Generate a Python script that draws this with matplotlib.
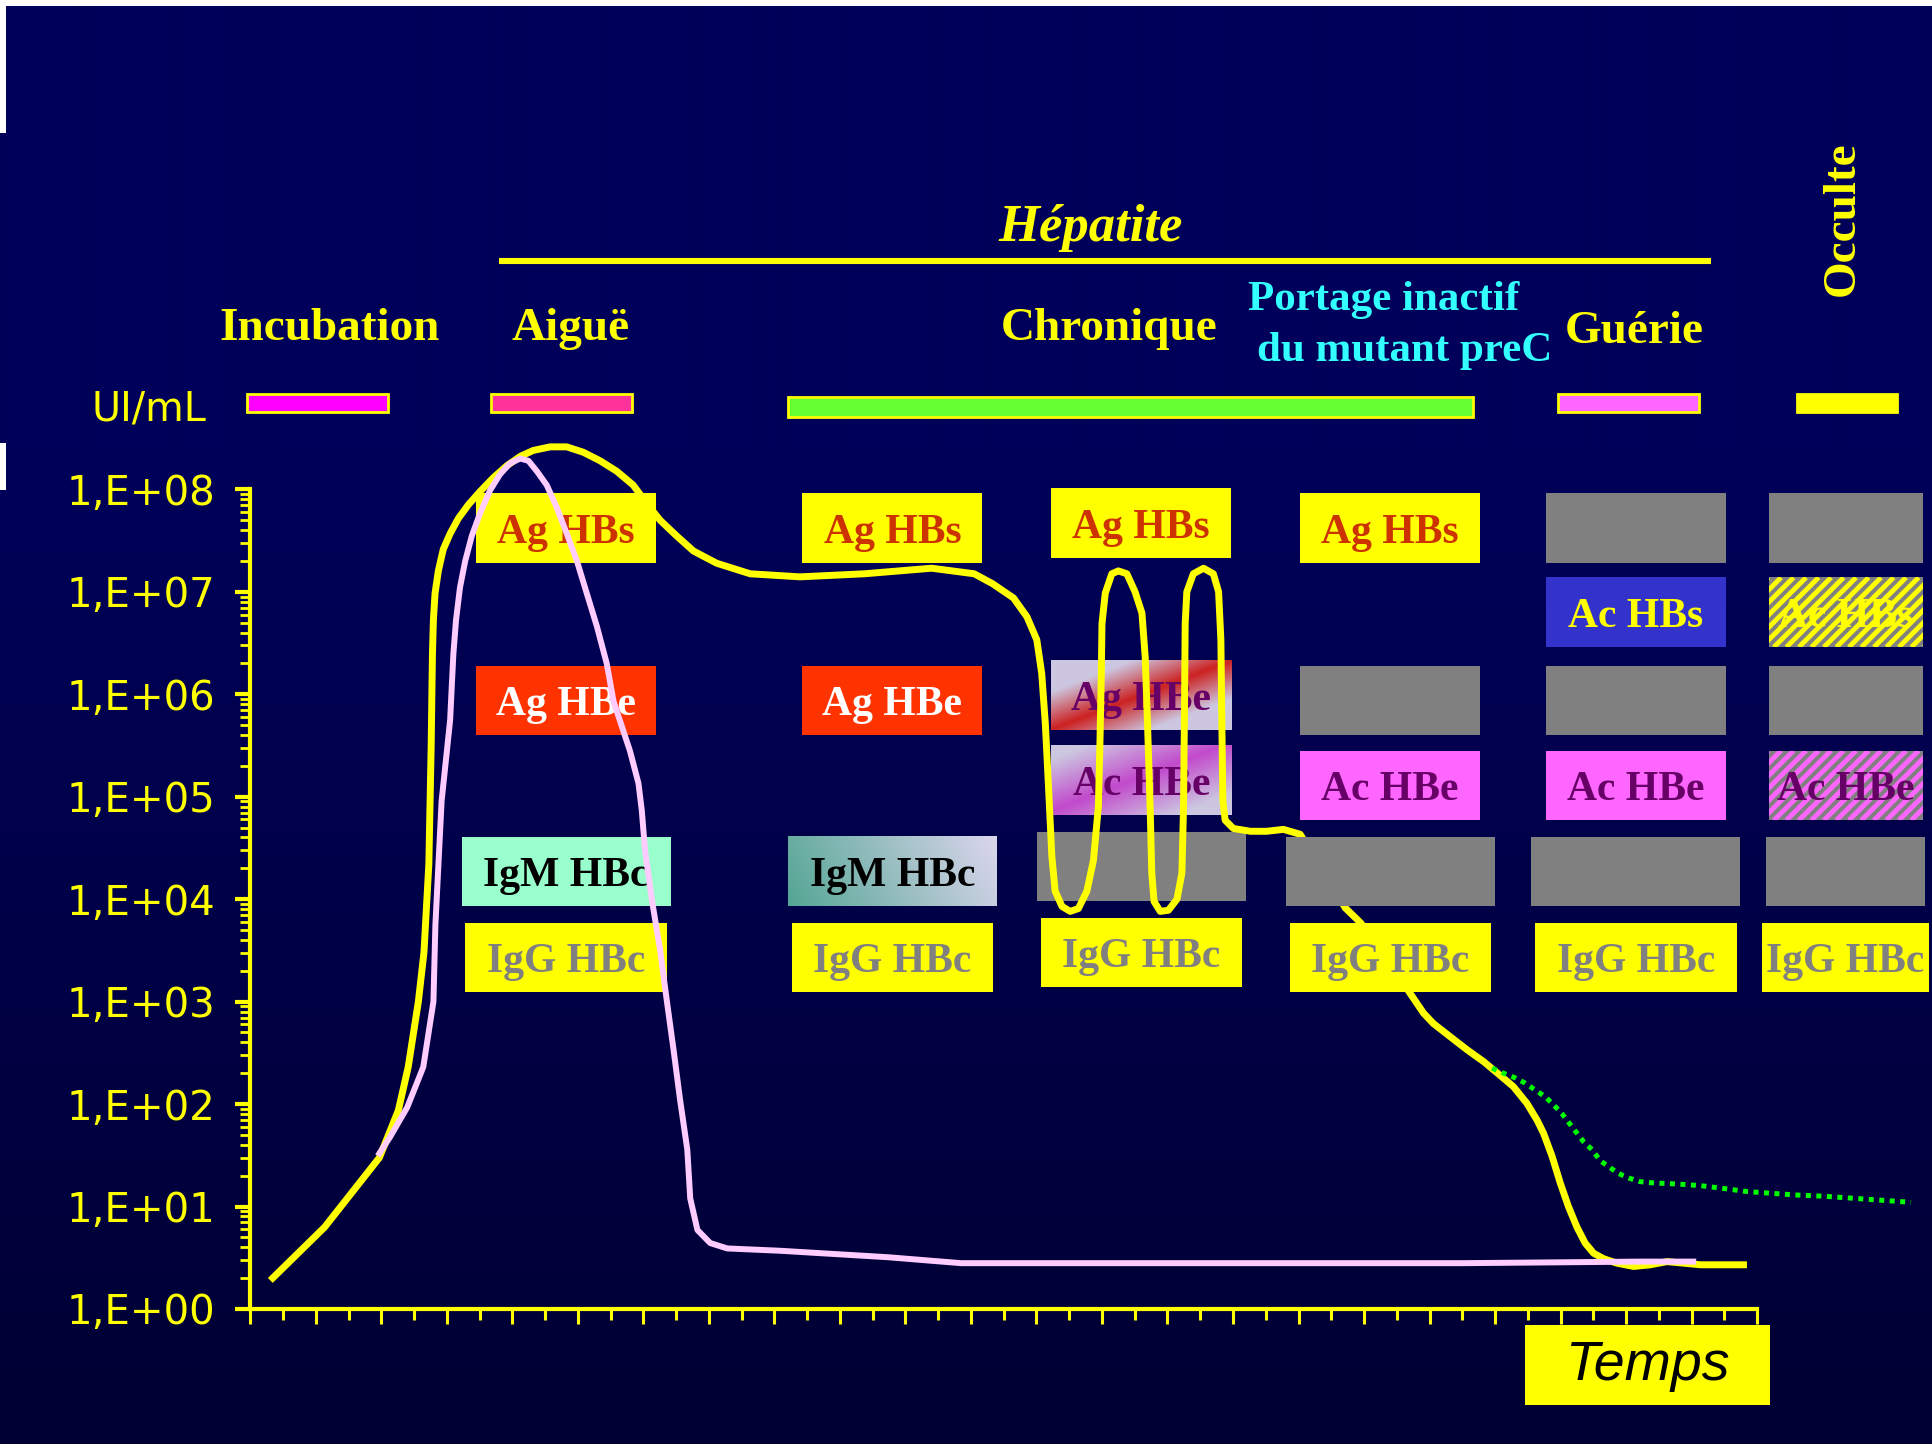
import numpy as np
import matplotlib
matplotlib.use("Agg")
import matplotlib.pyplot as plt
from matplotlib.patches import Rectangle
from matplotlib.collections import LineCollection
from matplotlib.transforms import Bbox, TransformedBbox, BboxTransformTo, IdentityTransform
from matplotlib.ticker import MultipleLocator, LogLocator, FuncFormatter, NullFormatter

# ---- curves: time (arbitrary units) / level (UI/mL) ----
# Ag HBs / viral load (yellow)
hbs_t = [0.61, 2.27, 3.94, 4.52, 4.82, 5.13, 5.30, 5.45, 5.52, 5.56, 5.59, 5.64, 5.74, 5.89,
         6.10, 6.35, 6.66, 7.01, 7.42, 7.83, 8.24, 8.64, 9.15, 9.66, 10.17, 10.68, 11.19, 11.69,
         12.10, 12.51, 13.02, 13.53, 14.24, 15.26, 16.78, 18.75, 20.80, 22.10, 22.66,
         23.30, 23.71, 24.01, 24.16, 24.27, 24.37, 24.47, 24.57, 24.78, 25.03, 25.28, 25.54,
         25.74, 25.89, 25.94, 25.98, 26.00, 26.10, 26.30, 26.50, 26.76, 27.01, 27.22, 27.32,
         27.39, 27.47, 27.52, 27.59, 27.78, 28.03, 28.29, 28.44, 28.49, 28.52, 28.54, 28.59,
         28.79, 29.10, 29.40, 29.56, 29.63, 29.66, 29.69, 29.76, 30.01, 30.53, 31.03, 31.54,
         32.05, 32.70, 33.43, 33.89, 34.60, 35.41, 35.82, 36.12, 36.63, 37.14, 37.65, 38.16,
         38.56, 38.97, 39.28, 39.48, 39.74, 39.99, 40.24, 40.50, 40.75, 41.01, 41.31, 41.72,
         42.23, 42.74, 43.25, 43.76, 44.27, 45.69]
hbs_v = [1.9, 6.3, 30, 87, 230, 1.0e3, 3.0e3, 2.2e4, 3.0e5, 2.5e6, 5.4e6, 9.7e6, 1.6e7, 2.6e7,
         3.7e7, 5.2e7, 7.1e7, 9.5e7, 1.3e8, 1.7e8, 2.1e8, 2.4e8, 2.6e8, 2.6e8, 2.3e8, 1.9e8, 1.5e8, 1.1e8,
         7.3e7, 5.0e7, 3.5e7, 2.5e7, 1.9e7, 1.5e7, 1.4e7, 1.5e7, 1.7e7, 1.5e7, 1.2e7,
         8.7e6, 5.7e6, 3.4e6, 1.6e6, 5.2e5, 1.2e5, 2.6e4, 1.2e4, 8.5e3, 7.6e3, 8.1e3, 1.2e4,
         2.4e4, 8.0e4, 3.6e5, 1.6e6, 4.9e6, 9.7e6, 1.5e7, 1.6e7, 1.5e7, 1.0e7, 6.2e6, 2.3e6,
         5.2e5, 8.0e4, 1.8e4, 9.5e3, 7.6e3, 7.8e3, 1.0e4, 1.8e4, 8.0e4, 7.6e5, 4.9e6, 1.0e7,
         1.5e7, 1.7e7, 1.5e7, 1.0e7, 3.4e6, 5.2e5, 9.3e4, 5.9e4, 4.9e4, 4.6e4, 4.6e4, 4.8e4,
         4.3e4, 2.0e4, 8.2e3, 5.9e3, 3.0e3, 1.2e3, 770, 610, 455, 340, 260, 190,
         148, 102, 70, 52, 31, 17, 10, 6.3, 4.4, 3.5, 3.1, 2.8,
         2.6, 2.7, 2.9, 2.8, 2.7, 2.7]

# Ag HBe (pink)
hbe_t = [3.94, 4.27, 4.79, 5.28, 5.59, 5.65, 5.84, 6.10, 6.15, 6.20, 6.28, 6.40, 6.56, 6.76,
         7.01, 7.32, 7.62, 7.93, 8.24, 8.49, 8.75, 9.05, 9.36, 9.66, 9.97, 10.27, 10.58, 10.88,
         11.09, 11.59, 11.85, 11.95, 12.05, 12.26, 12.51, 12.71, 12.92, 13.12, 13.34, 13.43,
         13.65, 14.04, 14.56, 16.18, 19.47, 21.70, 30.00, 37.00, 42.40, 44.05]
hbe_v = [33, 48, 93, 230, 1.0e3, 5.6e3, 9.1e4, 5.6e5, 1.2e6, 2.5e6, 5.3e6, 1.1e7, 2.0e7, 3.5e7,
         5.8e7, 9.8e7, 1.4e8, 1.8e8, 2.0e8, 1.9e8, 1.5e8, 1.1e8, 6.6e7, 3.7e7, 2.0e7, 9.7e6,
         4.6e6, 2.0e6, 8.5e5, 2.8e5, 1.35e5, 7.4e4, 3.0e4, 9.8e3, 3.2e3, 1.05e3, 340, 110, 36,
         12, 5.9, 4.4, 3.9, 3.7, 3.2, 2.8, 2.8, 2.8, 2.9, 2.9]

# occult infection (green dotted)
occ_t = [37.91, 38.26, 38.62, 38.92, 39.23, 39.53, 39.79, 40.04, 40.30, 40.50, 40.70, 40.96,
         41.21, 41.47, 41.77, 42.08, 42.43, 42.84, 43.55, 44.27, 44.98, 45.69, 46.40, 47.11,
         48.05, 50.70]
occ_v = [224, 200, 180, 160, 137, 118, 98, 81, 63, 52, 43, 36,
         28, 24.5, 21, 19, 17.5, 17, 16.6, 16, 15, 14, 13.5, 13,
         12.6, 11]

# ---- phases ----
phase_names = ["Incubation", "Aiguë", "Chronique", "Guérie", "Occulte"]
phase_start = [-0.1, 7.36, 16.42, 39.92, 47.21]
phase_end = [4.19, 11.66, 37.32, 44.23, 50.26]
phase_colors = ["#FF00FF", "#FF3399", "#66FF33", "#FF66FF", "#FFFF00"]

# ---- marker boxes, one list per column ----
columns = [
    [("HBs", "Ag HBs", "ag_s"), ("HBe", "Ag HBe", "ag_e"), ("IgM", "IgM HBc", "igm"), ("IgG", "IgG HBc", "igg")],
    [("HBs", "Ag HBs", "ag_s"), ("HBe", "Ag HBe", "ag_e"), ("IgM", "IgM HBc", "igm_fade"), ("IgG", "IgG HBc", "igg")],
    [("HBs", "Ag HBs", "ag_s"), ("HBe", "Ag HBe", "ag_e_fade"), ("AcHBe", "Ac HBe", "ac_e_fade"),
     ("IgM", "", "gray"), ("IgG", "IgG HBc", "igg")],
    [("HBs", "Ag HBs", "ag_s"), ("HBe", "", "gray"), ("AcHBe", "Ac HBe", "ac_e"),
     ("IgM", "", "gray"), ("IgG", "IgG HBc", "igg")],
    [("HBs", "", "gray"), ("AcHBs", "Ac HBs", "ac_s"), ("HBe", "", "gray"), ("AcHBe", "Ac HBe", "ac_e"),
     ("IgM", "", "gray"), ("IgG", "IgG HBc", "igg")],
    [("HBs", "", "gray"), ("AcHBs", "Ac HBs", "ac_s_hatch"), ("HBe", "", "gray"),
     ("AcHBe", "Ac HBe", "ac_e_hatch"), ("IgM", "", "gray"), ("IgG", "IgG HBc", "igg")],
]

# ---- layout ----
YEL = "#FFFF00"
SERIF = "Liberation Serif"
row_y = {"HBs": 7.62, "AcHBs": 6.80, "HBe": 5.94, "AcHBe": 5.11, "IgM": 4.27, "IgG": 3.43}
col_x = [9.64, 19.6, 27.2, 34.8, 42.3, 48.7]
col_dy = [0, 0, 0.05, 0, 0, 0]
box_h = 0.68
styles = {
    "ag_s": ("#FFFF00", "#CC3300"),
    "ag_e": ("#FF3300", "white"),
    "igm": ("#99FFCC", "black"),
    "igm_fade": ("teal", "black"),
    "igg": ("#FFFF00", "#808080"),
    "ag_e_fade": ("red", "#660066"),
    "ac_e_fade": ("purple", "#660066"),
    "ac_e": ("#FF66FF", "#660066"),
    "ac_s": ("#3333CC", "#FFFF00"),
    "gray": ("#808080", "none"),
    "ac_s_hatch": ("#808080", "#FFFF00"),
    "ac_e_hatch": ("#808080", "#660066"),
}
stripe_color = {"ac_s_hatch": "#FFFF00", "ac_e_hatch": "#FF66FF"}


def box_width(ci, row):
    if ci == 5:
        return {"IgM": 4.83, "IgG": 5.1}.get(row, 4.7)
    return {"IgM": 6.38, "IgG": 6.15}.get(row, 5.5)


def fade_image(kind, n=60, m=180):
    u = np.linspace(0, 1, m)[None, :]
    v = np.linspace(1, 0, n)[:, None]
    lav = np.array([0.80, 0.78, 0.88])
    if kind == "red":
        a = np.clip(np.abs(u - v) / 0.55, 0, 1)
        c0 = np.array([0.80, 0.13, 0.13])
    elif kind == "purple":
        a = np.clip(np.abs(u - v + 0.05) / 0.75, 0, 1)
        c0 = np.array([0.76, 0.29, 0.80])
    else:
        a = np.clip(0.85 * u + 0.15 * v, 0, 1)
        c0 = np.array([0.33, 0.65, 0.58])
        lav = np.array([0.86, 0.84, 0.93])
    return c0 * (1 - a)[..., None] + lav * a[..., None]


fig = plt.figure(figsize=(19.33, 14.44), dpi=100)

# background
bg = fig.add_axes([0, 0, 1, 1], zorder=-1)
rows = np.arange(1444)
blue = np.where(rows < 450, 0x5A, 0x5A + (0x33 - 0x5A) * (rows - 450) / (1444 - 450)) / 255
bg_img = np.zeros((1444, 1, 3))
bg_img[:, 0, 2] = blue
bg.imshow(bg_img, extent=(0, 1933, 1444, 0), aspect="auto", interpolation="bilinear")
for r in [(0, 0, 1933, 6), (0, 0, 6, 133), (0, 443, 6, 47)]:
    bg.add_patch(Rectangle((r[0], r[1]), r[2], r[3], color="white", lw=0))
bg.set_xlim(0, 1933)
bg.set_ylim(1444, 0)
bg.axis("off")

# main axes
ax = fig.add_axes([0.1295, 0.0935, 0.7795, 0.5676])
ax.set_facecolor("none")
ax.set_yscale("log")
ax.set_xlim(0, 46)
ax.set_ylim(1, 1e8)
ax.set_autoscale_on(False)
for s in ["top", "right"]:
    ax.spines[s].set_visible(False)
for s in ["left", "bottom"]:
    ax.spines[s].set_color(YEL)
    ax.spines[s].set_linewidth(3)

ax.yaxis.set_major_locator(LogLocator(base=10, numticks=20))
ax.yaxis.set_minor_locator(LogLocator(base=10, subs=np.arange(2, 10), numticks=20))
ax.yaxis.set_major_formatter(FuncFormatter(lambda v, p: "1,E+%02d" % round(np.log10(v))))
ax.yaxis.set_minor_formatter(NullFormatter())
ax.xaxis.set_major_locator(MultipleLocator(2))
ax.xaxis.set_minor_locator(MultipleLocator(1))
ax.tick_params(axis="y", which="major", direction="out", length=11, width=3, color=YEL,
               labelcolor=YEL, labelsize=29, pad=14)
ax.tick_params(axis="y", which="minor", direction="out", length=7, width=2, color=YEL)
ax.tick_params(axis="x", which="major", direction="out", length=11, width=2.2, color=YEL,
               labelbottom=False)
ax.tick_params(axis="x", which="minor", direction="out", length=8, width=2.2, color=YEL)

# curves
ax.plot(hbs_t, hbs_v, color=YEL, lw=5, solid_joinstyle="round", solid_capstyle="butt",
        zorder=3, clip_on=False)
ax.plot(hbe_t, hbe_v, color="#FFCCFF", lw=4.3, solid_joinstyle="round", zorder=6, clip_on=False)
ax.plot(occ_t, occ_v, color="#00FF00", lw=3.6, ls=(0, (1, 1.1)), zorder=3, clip_on=False)

# marker boxes
hatched = []
for ci, col in enumerate(columns):
    z = 2 if ci < 3 else 4
    for row, label, st in col:
        w = box_width(ci, row)
        yc = row_y[row] + col_dy[ci]
        x0, x1 = col_x[ci] - w / 2, col_x[ci] + w / 2
        y0, y1 = 10 ** (yc - box_h / 2), 10 ** (yc + box_h / 2)
        face, tcol = styles[st]
        if face in ("red", "purple", "teal"):
            tr = BboxTransformTo(TransformedBbox(Bbox.from_extents(x0, y0, x1, y1), ax.transData))
            ax.imshow(fade_image(face), extent=(0, 1, 0, 1), transform=tr, aspect="auto",
                      interpolation="bilinear", zorder=z, clip_on=False)
        else:
            ax.add_patch(Rectangle((x0, y0), x1 - x0, y1 - y0, facecolor=face, edgecolor="none",
                                   zorder=z, clip_on=False))
        if st in stripe_color:
            hatched.append((x0, y0, x1, y1, stripe_color[st], z))
        if label:
            ax.text(col_x[ci], 10 ** yc, label, ha="center", va="center_baseline", fontsize=30,
                    fontweight="bold", family=SERIF, color=tcol, zorder=z + 0.6)

# diagonal stripes (drawn in pixel space so they stay at 45 degrees)
for x0, y0, x1, y1, c, z in hatched:
    (p0x, p0y), (p1x, p1y) = ax.transData.transform([(x0, y0), (x1, y1)])
    h = p1y - p0y
    period = 12.5
    segs = []
    k = -h
    while k < (p1x - p0x) + period:
        segs.append([(p0x + k, p0y), (p0x + k + h, p1y)])
        k += period
    lc = LineCollection(segs, colors=c, linewidths=3.5, transform=IdentityTransform(), zorder=z + 0.3)
    ax.add_collection(lc, autolim=False)
    lc.set_clip_box(TransformedBbox(Bbox.from_extents(x0, y0, x1, y1), ax.transData))

# phase bars
bar_y = [(8.76, 8.93), (8.76, 8.93), (8.71, 8.905), (8.76, 8.93), (8.76, 8.93)]
for i in range(len(phase_names)):
    lo, hi = 10 ** bar_y[i][0], 10 ** bar_y[i][1]
    ax.add_patch(Rectangle((phase_start[i], lo), phase_end[i] - phase_start[i], hi - lo,
                           facecolor=phase_colors[i], edgecolor=YEL, lw=2, zorder=3, clip_on=False))

# headers
head = dict(ha="center", va="baseline", fontsize=34, fontweight="bold", family=SERIF, color=YEL)
ax.text(2.42, 10 ** 9.46, "Incubation", **head)
ax.text(9.77, 10 ** 9.46, "Aiguë", **head)
ax.text(26.23, 10 ** 9.46, "Chronique", **head)
ax.text(42.26, 10 ** 9.43, "Guérie", **head)
ax.text(34.6, 10 ** 9.75, "Portage inactif", ha="center", va="baseline", fontsize=31,
        fontweight="bold", family=SERIF, color="#33FFFF")
ax.text(35.25, 10 ** 9.25, "du mutant preC", ha="center", va="baseline", fontsize=31,
        fontweight="bold", family=SERIF, color="#33FFFF")
ax.text(48.63, 10 ** 10.64, "Occulte", ha="center", va="center", rotation=90, fontsize=34,
        fontweight="bold", family=SERIF, color=YEL)
ax.text(25.66, 10 ** 10.42, "Hépatite", ha="center", va="baseline", fontsize=38,
        fontweight="bold", style="italic", family=SERIF, color=YEL)
ax.hlines(10 ** 10.23, 7.6, 44.6, color=YEL, lw=4.4, clip_on=False)
ax.text(-3.09, 10 ** 8.78, "UI/mL", ha="center", va="center", fontsize=28.5, color=YEL)

# Temps label
ax.add_patch(Rectangle((38.9, 10 ** -0.94), 7.5, 10 ** -0.156 - 10 ** -0.94, facecolor=YEL,
                       edgecolor="none", zorder=3, clip_on=False))
ax.text(42.65, 10 ** -0.56, "Temps", ha="center", va="center", fontsize=40, style="italic",
        family="Liberation Sans", color="black", zorder=4)

fig.savefig("out.png", dpi=100)
